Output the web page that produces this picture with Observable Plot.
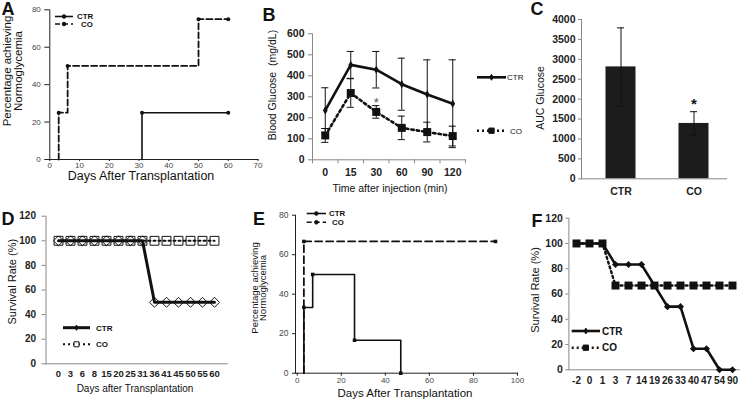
<!DOCTYPE html>
<html><head><meta charset="utf-8">
<script src="https://cdn.jsdelivr.net/npm/d3@7"></script>
<script src="https://cdn.jsdelivr.net/npm/@observablehq/plot@0.6"></script>
<style>
body{margin:0;background:#fff;}
#fig{position:relative;width:741px;height:406px;overflow:hidden;background:#fff;}
.panel{position:absolute;}
</style></head><body><div id="fig"></div>
<script>
// ---------- DATA ----------
const series = ["CTR", "CO"];
const panelLetters = ["A", "B", "C", "D", "E", "F"];
// A: percentage achieving normoglycemia (step curve)
const aDaysCTR = [31, 31, 60];
const aPctCTR = [0, 25, 25];
const aDaysCO = [3, 3, 6, 50, 60];
const aPctCO = [0, 25, 50, 75, 75];
const aXTicks = [0, 10, 20, 30, 40, 50, 60, 70];
const aYTicks = [0, 20, 40, 60, 80];
// B: blood glucose
const bTimes = ["0", "15", "30", "60", "90", "120"];
const bCTR = [235, 452, 429, 360, 311, 267];
const bCTRerr = [108, 64, 87, 124, 165, 209];
const bCO = [116, 318, 228, 152, 132, 113];
const bCOerr = [33, 68, 30, 56, 47, 47];
const bStar = {time: "30", value: 287};
const bYTicks = [0, 100, 200, 300, 400, 500, 600];
// C: AUC glucose
const cGroups = ["CTR", "CO"];
const cAUC = [2810, 1390];
const cErr = [980, 295];
const cStar = {group: "CO", value: 1980};
const cYTicks = [0, 500, 1000, 1500, 2000, 2500, 3000, 3500, 4000];
// D: survival rate
const dDays = ["0", "3", "6", "8", "15", "20", "25", "31", "36", "41", "45", "50", "55", "60"];
const dCTR = [100, 100, 100, 100, 100, 100, 100, 100, 50, 50, 50, 50, 50, 50];
const dCO = [100, 100, 100, 100, 100, 100, 100, 100, 100, 100, 100, 100, 100, 100];
const dYTicks = [0, 20, 40, 60, 80, 100, 120];
// E: percentage achieving normoglycemia
const eDaysCTR = [3, 3, 7, 26, 47];
const ePctCTR = [0, 33.3, 50, 16.7, 0];
const eDaysCO = [3, 3, 90];
const ePctCO = [0, 66.7, 66.7];
const eXTicks = [0, 20, 40, 60, 80, 100];
const eYTicks = [0, 20, 40, 60, 80];
// F: survival rate
const fDays = ["-2", "0", "1", "3", "7", "14", "19", "26", "33", "40", "47", "54", "90"];
const fCTR = [100, 100, 100, 83.3, 83.3, 83.3, 66.7, 50, 50, 16.7, 16.7, 0, 0];
const fCO = [100, 100, 100, 66.7, 66.7, 66.7, 66.7, 66.7, 66.7, 66.7, 66.7, 66.7, 66.7];
const fYTicks = [0, 20, 40, 60, 80, 100, 120];

// ---------- HELPERS ----------
const FONT = '"Liberation Sans", Arial, Helvetica, sans-serif';
const fig = document.getElementById("fig");
const STYLE = {fontFamily: FONT, background: "transparent", overflow: "visible"};
const plain = d => String(d);

function place(svg, left, top) {
  const d = document.createElement("div");
  d.className = "panel";
  d.style.left = left + "px";
  d.style.top = top + "px";
  d.appendChild(svg);
  fig.appendChild(d);
}
function txt(svg, s, x, y, o = {}) {
  d3.select(svg).append("text")
    .attr("x", x).attr("y", y)
    .attr("text-anchor", o.anchor || "middle")
    .attr("dy", o.dy || "0.35em")
    .attr("font-family", FONT)
    .attr("font-size", o.size || 11)
    .attr("font-weight", o.weight || "normal")
    .attr("fill", o.fill || "#111")
    .text(s);
}
function vtxt(svg, lines, cx, cy, o = {}) {
  const t = d3.select(svg).append("text")
    .attr("transform", `translate(${cx},${cy}) rotate(-90)`)
    .attr("text-anchor", "middle")
    .attr("font-family", FONT)
    .attr("font-size", o.size || 11)
    .attr("font-weight", o.weight || "normal")
    .attr("fill", o.fill || "#111");
  const lh = o.lh || 12;
  lines.forEach((l, i) => t.append("tspan").attr("x", 0)
    .attr("y", (i - (lines.length - 1) / 2) * lh).attr("dy", "0.35em").text(l));
}
function legend(svg, items, o) {
  const g = d3.select(svg).append("g");
  items.forEach((it, i) => {
    const y = o.y + i * o.dy;
    g.append("line").attr("x1", o.x0).attr("x2", o.x1).attr("y1", y).attr("y2", y)
      .attr("stroke", "#111").attr("stroke-width", it.sw).attr("stroke-dasharray", it.dash || null);
    if (it.symbol) g.append("path").attr("d", d3.symbol(it.symbol, it.size)())
      .attr("transform", `translate(${(o.x0 + o.x1) / 2},${y})`)
      .attr("fill", it.fill).attr("stroke", "#111").attr("stroke-width", 1);
    g.append("text").attr("x", o.tx + (it.dx || 0)).attr("y", y).attr("dy", "0.35em")
      .attr("text-anchor", "start")
      .attr("font-family", FONT).attr("font-size", o.size).attr("font-weight", o.weight || "bold")
      .attr("fill", "#111").text(it.label);
  });
}

// ---------- PANEL A ----------
{
  const ctr = aDaysCTR.map((d, i) => ({day: d, pct: aPctCTR[i]}));
  const co = aDaysCO.map((d, i) => ({day: d, pct: aPctCO[i]}));
  const svg = Plot.plot({
    width: 262, height: 200, marginLeft: 49.3, marginRight: 4.5, marginTop: 9.3, marginBottom: 41,
    style: STYLE,
    x: {domain: [0, 70], label: null}, y: {domain: [0, 80], label: null},
    marks: [
      Plot.axisX({ticks: aXTicks, tickFormat: plain, tickSize: 2, tickPadding: 1, fontSize: 8, fill: "#444", stroke: "#222", label: null}),
      Plot.axisY({ticks: aYTicks, tickFormat: plain, tickSize: 5, tickPadding: 4, fontSize: 8, fill: "#444", stroke: "#222", label: null}),
      Plot.frame({anchor: "left", stroke: "#222"}),
      Plot.frame({anchor: "bottom", stroke: "#222"}),
      Plot.line(co, {x: "day", y: "pct", curve: "step-after", stroke: "#111", strokeWidth: 1.8, strokeDasharray: "6,3"}),
      Plot.line(ctr, {x: "day", y: "pct", curve: "step-after", stroke: "#111", strokeWidth: 1.6}),
      Plot.dot(co.slice(1), {x: "day", y: "pct", r: 2, fill: "#111"}),
      Plot.dot(ctr.slice(1), {x: "day", y: "pct", r: 2, fill: "#111"})
    ]
  });
  txt(svg, panelLetters[0], 8, 9, {size: 18, weight: "bold"});
  vtxt(svg, ["Percentage achieving", "Normoglycemia"], 12.5, 71, {size: 11.5, lh: 11.7});
  txt(svg, "Days After Transplantation", 141, 176, {size: 12.5});
  legend(svg, [
    {label: series[0], sw: 1.6, symbol: d3.symbolCircle, size: 10, fill: "#111"},
    {label: series[1], sw: 1.6, dash: "5,3", symbol: d3.symbolCircle, size: 10, fill: "#111", dx: 4}
  ], {x0: 55, x1: 73, y: 16.5, dy: 7.5, tx: 77, size: 7.8});
  place(svg, 0, 0);
}

// ---------- PANEL B ----------
{
  const ctr = bTimes.map((t, i) => ({i, v: bCTR[i], lo: bCTR[i] - bCTRerr[i], hi: bCTR[i] + bCTRerr[i]}));
  const co = bTimes.map((t, i) => ({i, v: bCO[i], lo: bCO[i] - bCOerr[i], hi: bCO[i] + bCOerr[i]}));
  const bars = ctr.concat(co);
  const cap = 0.14;
  const svg = Plot.plot({
    width: 270, height: 200, marginLeft: 62, marginRight: 55, marginTop: 33.3, marginBottom: 40.7,
    style: STYLE,
    x: {domain: [-0.5, bTimes.length - 0.5], label: null}, y: {domain: [0, 600], label: null},
    marks: [
      Plot.axisX({ticks: d3.range(bTimes.length + 1).map(i => i - 0.5), tickFormat: () => "", tickSize: 4, stroke: "#888", label: null}),
      Plot.axisX({ticks: d3.range(bTimes.length), tickFormat: i => bTimes[i], tickSize: 0, tickPadding: 9, fontSize: 10.5, fontWeight: "bold", fill: "#222", label: null}),
      Plot.axisY({ticks: bYTicks, tickFormat: plain, tickSize: 4, tickPadding: 4, fontSize: 10.5, fontWeight: "bold", fill: "#222", stroke: "#888", label: null}),
      Plot.frame({anchor: "left", stroke: "#888"}),
      Plot.frame({anchor: "bottom", stroke: "#888"}),
      Plot.ruleX(bars, {x: "i", y1: "lo", y2: "hi", stroke: "#111", strokeWidth: 1}),
      Plot.ruleY(bars, {y: "hi", x1: d => d.i - cap, x2: d => d.i + cap, stroke: "#111", strokeWidth: 1}),
      Plot.ruleY(bars, {y: "lo", x1: d => d.i - cap, x2: d => d.i + cap, stroke: "#111", strokeWidth: 1}),
      Plot.line(co, {x: "i", y: "v", stroke: "#111", strokeWidth: 2.6, strokeDasharray: "2.5,3"}),
      Plot.line(ctr, {x: "i", y: "v", stroke: "#111", strokeWidth: 2.6}),
      Plot.dot(co, {x: "i", y: "v", symbol: "square", r: 4.5, fill: "#111"}),
      Plot.dot(ctr, {x: "i", y: "v", symbol: "diamond", r: 2.5, fill: "#111"}),
      Plot.text([bStar], {x: d => bTimes.indexOf(d.time), y: "value", text: () => "*", fontSize: 13, fill: "#555", dy: 3})
    ]
  });
  txt(svg, panelLetters[1], 19, 15, {size: 18, weight: "bold"});
  vtxt(svg, ["Blood Glucose  (mg/dL)"], 22.5, 85, {size: 10.5});
  txt(svg, "Time after injection (min)", 140, 188.3, {size: 10.5});
  legend(svg, [
    {label: series[0], sw: 2.6, symbol: d3.symbolDiamond, size: 10, fill: "#111"}
  ], {x0: 227, x1: 256, y: 77.3, dy: 0, tx: 257, size: 8, weight: "normal"});
  legend(svg, [
    {label: series[1], sw: 2.4, dash: "2,3", symbol: d3.symbolSquare, size: 28, fill: "#111"}
  ], {x0: 227, x1: 256, y: 130.7, dy: 0, tx: 260, size: 8, weight: "normal"});
  place(svg, 250, 0);
}

// ---------- PANEL C ----------
{
  const data = cGroups.map((g, i) => ({g, v: cAUC[i], lo: cAUC[i] - cErr[i], hi: cAUC[i] + cErr[i]}));
  const svg = Plot.plot({
    width: 221, height: 200, marginLeft: 61, marginRight: 15, marginTop: 19, marginBottom: 21.7,
    style: STYLE,
    x: {type: "band", domain: cGroups, range: [64.2, 210.2], padding: 0, label: null},
    y: {domain: [0, 4000], label: null},
    marks: [
      Plot.axisX({tickSize: 0, tickPadding: 9, fontSize: 10.5, fontWeight: "bold", fill: "#222", label: null}),
      Plot.axisY({ticks: cYTicks, tickFormat: plain, tickSize: 3, tickPadding: 3, fontSize: 10.5, fontWeight: "bold", fill: "#222", stroke: "#888", label: null}),
      Plot.barY(data, {x: "g", y: "v", fill: "#1c1c1c", insetLeft: 21.5, insetRight: 21.5}),
      Plot.frame({anchor: "left", stroke: "#888"}),
      Plot.frame({anchor: "bottom", stroke: "#888"}),
      Plot.ruleX(data, {x: "g", y1: "lo", y2: "hi", stroke: "#111", strokeWidth: 1}),
      Plot.tickY(data, {x: "g", y: "hi", stroke: "#111", insetLeft: 33, insetRight: 33}),
      Plot.tickY(data, {x: "g", y: "lo", stroke: "#111", insetLeft: 33, insetRight: 33}),
      Plot.text([cStar], {x: "group", y: "value", text: () => "*", fontSize: 15, fontWeight: "bold", fill: "#111", dy: 4})
    ]
  });
  txt(svg, panelLetters[2], 17, 9, {size: 18, weight: "bold"});
  vtxt(svg, ["AUC Glucose"], 20, 98, {size: 10.5});
  place(svg, 520, 0);
}

// ---------- PANEL D ----------
{
  const data = dDays.map((d, i) => ({d, ctr: dCTR[i], co: dCO[i]}));
  const svg = Plot.plot({
    width: 250, height: 206, marginLeft: 45.5, marginRight: 23.2, marginTop: 15.7, marginBottom: 42.7,
    style: STYLE,
    x: {type: "point", domain: dDays, padding: 0.5, label: null},
    y: {domain: [0, 120], label: null},
    marks: [
      Plot.axisX({tickSize: 0, tickPadding: 6.5, fontSize: 9.5, fontWeight: "bold", fill: "#222", label: null}),
      Plot.axisY({ticks: dYTicks, tickFormat: plain, tickSize: 4, tickPadding: 6, fontSize: 10, fontWeight: "bold", fill: "#222", stroke: "#888", label: null}),
      Plot.frame({anchor: "left", stroke: "#888"}),
      Plot.frame({anchor: "bottom", stroke: "#888"}),
      Plot.line(data, {x: "d", y: "co", stroke: "#111", strokeWidth: 2, strokeDasharray: "2,3"}),
      Plot.dot(data, {x: "d", y: "co", symbol: "square", r: 5, fill: "none", stroke: "#111", strokeWidth: 1}),
      Plot.line(data, {x: "d", y: "ctr", stroke: "#111", strokeWidth: 3}),
      Plot.dot(data, {x: "d", y: "ctr", symbol: "diamond2", r: 4.5, fill: "none", stroke: "#111", strokeWidth: 1})
    ]
  });
  txt(svg, panelLetters[3], 8, 19, {size: 18, weight: "bold"});
  vtxt(svg, ["Survival Rate (%)"], 12, 81.7, {size: 11});
  txt(svg, "Days after Transplantation", 135, 188.3, {size: 10});
  legend(svg, [
    {label: series[0], sw: 3, symbol: d3.symbolDiamond, size: 8, fill: "#111"},
    {label: series[1], sw: 2, dash: "2,3", symbol: d3.symbolSquare, size: 25, fill: "white"}
  ], {x0: 63, x1: 90, y: 127.7, dy: 16.6, tx: 96, size: 8});
  place(svg, 0, 200);
}

// ---------- PANEL E ----------
{
  const ctr = eDaysCTR.map((d, i) => ({day: d, pct: ePctCTR[i]}));
  const co = eDaysCO.map((d, i) => ({day: d, pct: ePctCO[i]}));
  const svg = Plot.plot({
    width: 270, height: 206, marginLeft: 45, marginRight: 3, marginTop: 14.7, marginBottom: 33.3,
    style: STYLE,
    x: {domain: [-0.8, 100], label: null}, y: {domain: [0, 80], label: null},
    marks: [
      Plot.axisX({ticks: eXTicks, tickFormat: plain, tickSize: 3, tickPadding: 1.5, fontSize: 8, fill: "#444", stroke: "#222", label: null}),
      Plot.axisY({ticks: eYTicks, tickFormat: plain, tickSize: 3, tickPadding: 4, fontSize: 8.5, fill: "#444", stroke: "#222", label: null}),
      Plot.frame({anchor: "left", stroke: "#222"}),
      Plot.frame({anchor: "bottom", stroke: "#222"}),
      Plot.line(co, {x: "day", y: "pct", curve: "step-after", stroke: "#111", strokeWidth: 1.8, strokeDasharray: "7,4"}),
      Plot.line(ctr, {x: "day", y: "pct", curve: "step-after", stroke: "#111", strokeWidth: 1.6}),
      Plot.dot(co.slice(1), {x: "day", y: "pct", symbol: "square", r: 2, fill: "#111"}),
      Plot.dot(ctr.slice(1), {x: "day", y: "pct", symbol: "square", r: 2, fill: "#111"})
    ]
  });
  txt(svg, panelLetters[4], 9, 19, {size: 18, weight: "bold"});
  vtxt(svg, ["Percentage achieving", "Normoglycemia"], 8.8, 88, {size: 9.5, lh: 8.2});
  txt(svg, "Days After Transplantation", 155, 192.5, {size: 11.5});
  legend(svg, [
    {label: series[0], sw: 1.6, symbol: d3.symbolCircle, size: 10, fill: "#111"},
    {label: series[1], sw: 1.6, dash: "5,3", symbol: d3.symbolCircle, size: 10, fill: "#111", dx: 3}
  ], {x0: 56.7, x1: 76, y: 13.5, dy: 8.8, tx: 79, size: 7.8});
  place(svg, 250, 200);
}

// ---------- PANEL F ----------
{
  const data = fDays.map((d, i) => ({d, ctr: fCTR[i], co: fCO[i]}));
  const svg = Plot.plot({
    width: 221, height: 206, marginLeft: 48.4, marginRight: 2.2, marginTop: 17.7, marginBottom: 36.7,
    style: STYLE,
    x: {type: "point", domain: fDays, padding: 0.5, label: null},
    y: {domain: [0, 120], label: null},
    marks: [
      Plot.axisX({tickSize: 0, tickPadding: 7, fontSize: 10, fontWeight: "bold", fill: "#222", label: null}),
      Plot.axisY({ticks: fYTicks, tickFormat: plain, tickSize: 3, tickPadding: 3, fontSize: 10.5, fontWeight: "bold", fill: "#222", stroke: "#888", label: null}),
      Plot.frame({anchor: "left", stroke: "#888"}),
      Plot.frame({anchor: "bottom", stroke: "#888"}),
      Plot.line(data, {x: "d", y: "co", stroke: "#111", strokeWidth: 2.4, strokeDasharray: "2,3"}),
      Plot.dot(data, {x: "d", y: "co", symbol: "square", r: 4.5, fill: "#111"}),
      Plot.line(data, {x: "d", y: "ctr", stroke: "#111", strokeWidth: 2.6}),
      Plot.dot(data, {x: "d", y: "ctr", symbol: "diamond2", r: 3.2, fill: "#111"})
    ]
  });
  txt(svg, panelLetters[5], 17, 21, {size: 18, weight: "bold"});
  vtxt(svg, ["Survival Rate (%)"], 15, 90, {size: 11});
  legend(svg, [
    {label: series[0], sw: 2.6, symbol: d3.symbolDiamond, size: 10, fill: "#111"},
    {label: series[1], sw: 2.4, dash: "2,3", symbol: d3.symbolSquare, size: 28, fill: "#111"}
  ], {x0: 51.7, x1: 80, y: 131, dy: 16.7, tx: 82, size: 10});
  place(svg, 520, 200);
}
</script></body></html>
